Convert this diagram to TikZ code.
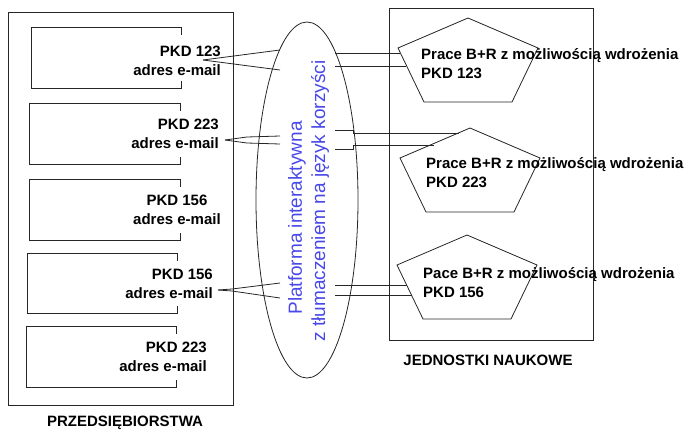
\documentclass[tikz,border=0pt]{standalone}
\usepackage{fontspec}
\setmainfont{Liberation Sans}
\usetikzlibrary{positioning, shapes.geometric}

\definecolor{platblue}{RGB}{72,72,232}

\tikzset{
    pics/pentagon/.style={code={
        \coordinate (-t) at (0,0);
        \coordinate (-r) at (70,30);
        \coordinate (-br) at (44,84);
        \coordinate (-bl) at (-44,84);
        \coordinate (-l) at (-70,30);
        \draw[wire] (-t) -- (-r) -- (-br) -- (-bl) -- (-l) -- cycle;
    }}
}

\begin{document}
\begin{tikzpicture}[
    x=1pt, y=-1pt,
    wire/.style={draw=black!85, line width=0.8pt},
    frame/.style={wire, rectangle, inner sep=0pt},
    firm/.style={
        rectangle,
        minimum width=150pt,
        minimum height=60pt,
        inner sep=0pt
    },
    txt/.style={font=\fontsize{15}{19}\selectfont\bfseries, inner sep=0pt},
    plattxt/.style={font=\fontsize{19}{23}\selectfont, text=platblue, inner sep=0pt, rotate=90}
]
\useasboundingbox (0,0) rectangle (689,432);

% enterprises
\node[frame, minimum width=225pt, minimum height=393pt] (firms) at (120.5,208.5) {};
\node[firm] (f1) at (106.5,58) {};
\node[firm] (f2) at (105,134) {};
\node[firm] (f3) at (105,210) {};
\node[firm, minimum width=149pt, minimum height=59pt] (f4) at (102.5,283.5) {};
\node[firm, minimum width=149pt] (f5) at (101.5,357) {};

\draw[wire] ([yshift=-7pt]f1.north east) -- (f1.north east) -- (f1.north west) -- (f1.south west) -- (f1.south east) -- ([yshift=7pt]f1.south east);
\draw[wire] ([yshift=-7pt]f2.north east) -- (f2.north east) -- (f2.north west) -- (f2.south west) -- (f2.south east) -- ([yshift=7pt]f2.south east);
\draw[wire] ([yshift=-7pt]f3.north east) -- (f3.north east) -- (f3.north west) -- (f3.south west) -- (f3.south east) -- ([yshift=7pt]f3.south east);
\draw[wire] ([yshift=-7pt]f4.north east) -- (f4.north east) -- (f4.north west) -- (f4.south west) -- (f4.south east) -- ([yshift=7pt]f4.south east);
\draw[wire] ([yshift=-7pt]f5.north east) -- (f5.north east) -- (f5.north west) -- (f5.south west) -- (f5.south east) -- ([yshift=7pt]f5.south east);

\node[txt, align=right, anchor=east] (t1) at (221,61) {PKD 123\\adres e-mail};
\node[txt, align=right, anchor=east] (t2) at (219,134) {PKD 223\\adres e-mail};
\node[txt, align=center] (t3) at (177,210) {PKD 156\\adres e-mail};
\node[txt, align=right, anchor=east] (t4) at (213,284) {PKD 156\\adres e-mail};
\node[txt, align=right, anchor=east] (t5) at (207,356.5) {PKD 223\\adres e-mail};

\node[txt] (firmsname) at (125,423) {PRZEDSIĘBIORSTWA};

% platform
\node[ellipse, wire, minimum width=102pt, minimum height=356pt, inner sep=0pt] (plat) at (307,200) {};
\node[plattxt] (plat1) at (297,218) {Platforma interaktywna};
\node[plattxt] (plat2) at (320,201) {z tłumaczeniem na język korzyści};

% research units
\node[frame, minimum width=204pt, minimum height=332pt] (units) at (491,174) {};
\pic (p1) at (468,18) {pentagon};
\pic (p2) at (470,128) {pentagon};
\pic (p3) at (467,235) {pentagon};

\node[txt, align=left, anchor=west] (w1) at (421,64) {Prace B+R z możliwością wdrożenia\\PKD 123};
\node[txt, align=left, anchor=west] (w2) at (426,173) {Prace B+R z możliwością wdrożenia\\PKD 223};
\node[txt, align=left, anchor=west] (w3) at (423,282.5) {Pace B+R z możliwością wdrożenia\\PKD 156};

\node[txt] (unitsname) at (488,360) {JEDNOSTKI NAUKOWE};

% connections
\coordinate (c1) at (203,60);
\coordinate (c1a) at (280,50);
\coordinate (c1b) at (280,70);
\coordinate (d1a) at (335,53);
\coordinate (d1b) at (335,66);
\coordinate (e1a) at (400,53);
\coordinate (e1b) at (406,66);
\draw[wire] (c1) -- (c1a);
\draw[wire] (c1) -- (c1b);
\draw[wire] (d1a) -- (e1a);
\draw[wire] (d1b) -- (e1b);

\coordinate (c2) at (225,140);
\coordinate (c2a) at (280,136);
\coordinate (c2b) at (280,144);
\coordinate (d2a) at (335,130);
\coordinate (d2b) at (335,149);
\coordinate (e2a) at (459,133);
\coordinate (e2b) at (434,145);
\draw[wire] (c2) -- (247,137) -- (c2a);
\draw[wire] (c2) -- (247,143) -- (c2b);
\draw[wire] (d2a) -- (353,130) -- (353,133) -- (e2a);
\draw[wire] (d2b) -- (353,149) -- (353,145) -- (e2b);

\coordinate (c4) at (218,290);
\coordinate (c4a) at (280,283);
\coordinate (c4b) at (280,298);
\coordinate (d4a) at (335,285);
\coordinate (d4b) at (335,295);
\coordinate (e4a) at (407,285);
\coordinate (e4b) at (412,295);
\draw[wire] (c4) -- (232,289) -- (c4a);
\draw[wire] (c4) -- (232,291) -- (c4b);
\draw[wire] (d4a) -- (e4a);
\draw[wire] (d4b) -- (e4b);

\end{tikzpicture}
\end{document}
